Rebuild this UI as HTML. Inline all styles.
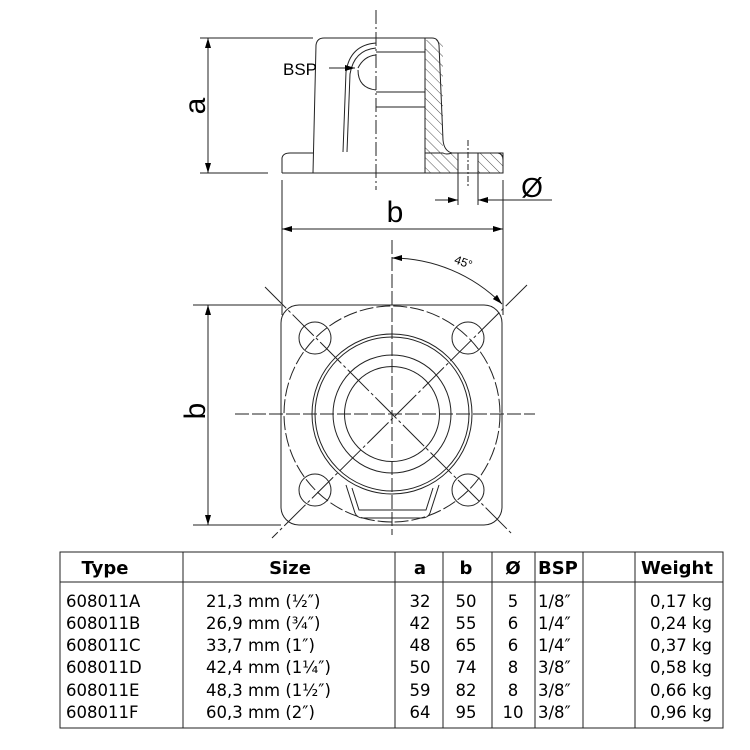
<!DOCTYPE html>
<html><head><meta charset="utf-8"><style>
body{margin:0;background:#fff;width:750px;height:750px;overflow:hidden}
svg{display:block}
</style></head><body>
<svg width="750" height="750" viewBox="0 0 750 750" xmlns="http://www.w3.org/2000/svg">
<defs>
<pattern id="h" width="7" height="7" patternUnits="userSpaceOnUse" patternTransform="rotate(-45)">
<line x1="0" y1="0" x2="0" y2="7" stroke="#222" stroke-width="0.8"/></pattern>
<clipPath id="sq"><rect x="281" y="305" width="221" height="220" rx="18"/></clipPath>
<marker id="a" viewBox="0 0 10 6" refX="10" refY="3" markerWidth="10" markerHeight="6" orient="auto-start-reverse" markerUnits="userSpaceOnUse"><path d="M0,0L10,3L0,6z" fill="#000"/></marker>
</defs>
<g fill="none" stroke="#222" stroke-width="1">
<path d="M313,173 L316,45 Q317,38 324,38 L432,38 Q438,38 439,45 L443,140 Q444,151 452,153 L498,153 Q503,154 503,160 L503,173 Z"/>
<path d="M282,173 L282,158 Q283,153 290,153 L313,153"/>
<line x1="282" y1="173" x2="313" y2="173"/>
<path d="M425,38 L425,153 L425,173" />
<rect x="425" y="40" width="18" height="113" fill="url(#h)" stroke="none"/>
<path d="M425,153 L443,153 Q446,155 452,153 L458,153 L458,173 L425,173Z" fill="url(#h)"/>
<rect x="478" y="153" width="25" height="20" fill="url(#h)"/>
<line x1="376" y1="52" x2="425" y2="52"/><line x1="376" y1="92" x2="425" y2="92"/><line x1="376" y1="107" x2="425" y2="107"/>
<path d="M343,152 L346,72 Q350,45 376,43"/><path d="M347,152 L350,74 Q354,50 376,48"/>
<path d="M358,68 Q364,56 376,55 M376,90 Q358,88 358,70"/>
<line x1="376" y1="10" x2="376" y2="190" stroke-dasharray="14,3,2,3"/>
<line x1="468" y1="140" x2="468" y2="186" stroke-dasharray="6,2,2,2"/>
<line x1="458" y1="173" x2="458" y2="205"/><line x1="478" y1="173" x2="478" y2="205"/>
<line x1="435" y1="200" x2="458" y2="200" marker-end="url(#a)"/>
<line x1="552" y1="200" x2="478" y2="200" marker-end="url(#a)"/>
<line x1="503" y1="180" x2="503" y2="315"/>
<line x1="282" y1="180" x2="282" y2="315"/>
<line x1="282" y1="229" x2="503" y2="229" marker-start="url(#a)" marker-end="url(#a)"/>
<line x1="200" y1="38" x2="313" y2="38"/><line x1="200" y1="173" x2="268" y2="173"/>
<line x1="208" y1="38" x2="208" y2="173" marker-start="url(#a)" marker-end="url(#a)"/>
<line x1="329" y1="68" x2="355" y2="68" marker-end="url(#a)"/>
<rect x="281" y="305" width="221" height="220" rx="18"/>
<circle cx="392" cy="414" r="108" stroke-dasharray="14,3" clip-path="url(#sq)"/>
<circle cx="392" cy="414" r="80"/><circle cx="392" cy="414" r="77"/>
<circle cx="392" cy="414" r="59"/><circle cx="392" cy="414" r="47.5"/>
<circle cx="315" cy="338" r="16"/><circle cx="468" cy="338" r="16"/>
<circle cx="315" cy="490" r="16"/><circle cx="468" cy="490" r="16"/>
<path d="M346,485 L355,513 Q357,518 363,518 L422,518 Q428,518 430,513 L439,485"/>
<path d="M352,488 L359,510 L426,510 L433,488"/>
<line x1="265" y1="287" x2="512" y2="534" stroke-dasharray="30,3,3,3"/>
<line x1="527" y1="285" x2="272" y2="538" stroke-dasharray="30,3,3,3"/>
<line x1="235" y1="414" x2="535" y2="414" stroke-dasharray="14,3"/>
<line x1="392" y1="240" x2="392" y2="535" stroke-dasharray="14,3"/>
<path d="M392,258 A156,156 0 0 1 502,304" marker-start="url(#a)" marker-end="url(#a)"/>
<line x1="193" y1="305" x2="281" y2="305"/><line x1="193" y1="525" x2="281" y2="525"/>
<line x1="208" y1="305" x2="208" y2="525" marker-start="url(#a)" marker-end="url(#a)"/>
<!-- table -->
<rect x="60" y="552" width="663" height="176"/>
<line x1="60" y1="582" x2="723" y2="582"/>
<line x1="183" y1="552" x2="183" y2="728"/><line x1="395" y1="552" x2="395" y2="728"/>
<line x1="443" y1="552" x2="443" y2="728"/><line x1="492" y1="552" x2="492" y2="728"/>
<line x1="535" y1="552" x2="535" y2="728"/><line x1="583" y1="552" x2="583" y2="728"/>
<line x1="635" y1="552" x2="635" y2="728"/>
</g>
<g font-family="'DejaVu Sans','Liberation Sans',sans-serif" fill="#000">
<text x="283" y="75" font-size="17" font-family="'Liberation Sans',sans-serif">BSP</text>
<text x="395" y="222" font-size="30" text-anchor="middle" font-family="'Liberation Sans',sans-serif">b</text>
<text x="532" y="197" font-size="28" text-anchor="middle" font-family="'Liberation Sans',sans-serif">Ø</text>
<text transform="translate(205,106) rotate(-90)" font-size="30" text-anchor="middle" font-family="'Liberation Sans',sans-serif">a</text>
<text transform="translate(205,411) rotate(-90)" font-size="30" text-anchor="middle" font-family="'Liberation Sans',sans-serif">b</text>
<text transform="translate(462,266) rotate(20)" font-size="12" text-anchor="middle" font-family="'Liberation Sans',sans-serif">45°</text>
<g font-size="18" font-weight="bold" text-anchor="middle">
<text x="105" y="574">Type</text><text x="290" y="574">Size</text><text x="420" y="574">a</text>
<text x="466" y="574">b</text><text x="513" y="574">Ø</text><text x="538" y="574" text-anchor="start">BSP</text>
<text x="677" y="574">Weight</text></g>
<g font-size="16.5">
<g text-anchor="start">
<text x="66" y="607">608011A</text><text x="66" y="629">608011B</text><text x="66" y="651">608011C</text>
<text x="66" y="673">608011D</text><text x="66" y="696">608011E</text><text x="66" y="718">608011F</text>
<text x="206" y="607">21,3 mm (½″)</text><text x="206" y="629">26,9 mm (¾″)</text><text x="206" y="651">33,7 mm (1″)</text>
<text x="206" y="673">42,4 mm (1¼″)</text><text x="206" y="696">48,3 mm (1½″)</text><text x="206" y="718">60,3 mm (2″)</text>
<text x="538" y="607">1/8″</text><text x="538" y="629">1/4″</text><text x="538" y="651">1/4″</text>
<text x="538" y="673">3/8″</text><text x="538" y="696">3/8″</text><text x="538" y="718">3/8″</text></g>
<g text-anchor="middle">
<text x="420" y="607">32</text><text x="420" y="629">42</text><text x="420" y="651">48</text><text x="420" y="673">50</text><text x="420" y="696">59</text><text x="420" y="718">64</text>
<text x="466" y="607">50</text><text x="466" y="629">55</text><text x="466" y="651">65</text><text x="466" y="673">74</text><text x="466" y="696">82</text><text x="466" y="718">95</text>
<text x="513" y="607">5</text><text x="513" y="629">6</text><text x="513" y="651">6</text><text x="513" y="673">8</text><text x="513" y="696">8</text><text x="513" y="718">10</text></g>
<g text-anchor="end">
<text x="712" y="607">0,17 kg</text><text x="712" y="629">0,24 kg</text><text x="712" y="651">0,37 kg</text>
<text x="712" y="673">0,58 kg</text><text x="712" y="696">0,66 kg</text><text x="712" y="718">0,96 kg</text></g>
</g>
</g>
</svg>
</body></html>
